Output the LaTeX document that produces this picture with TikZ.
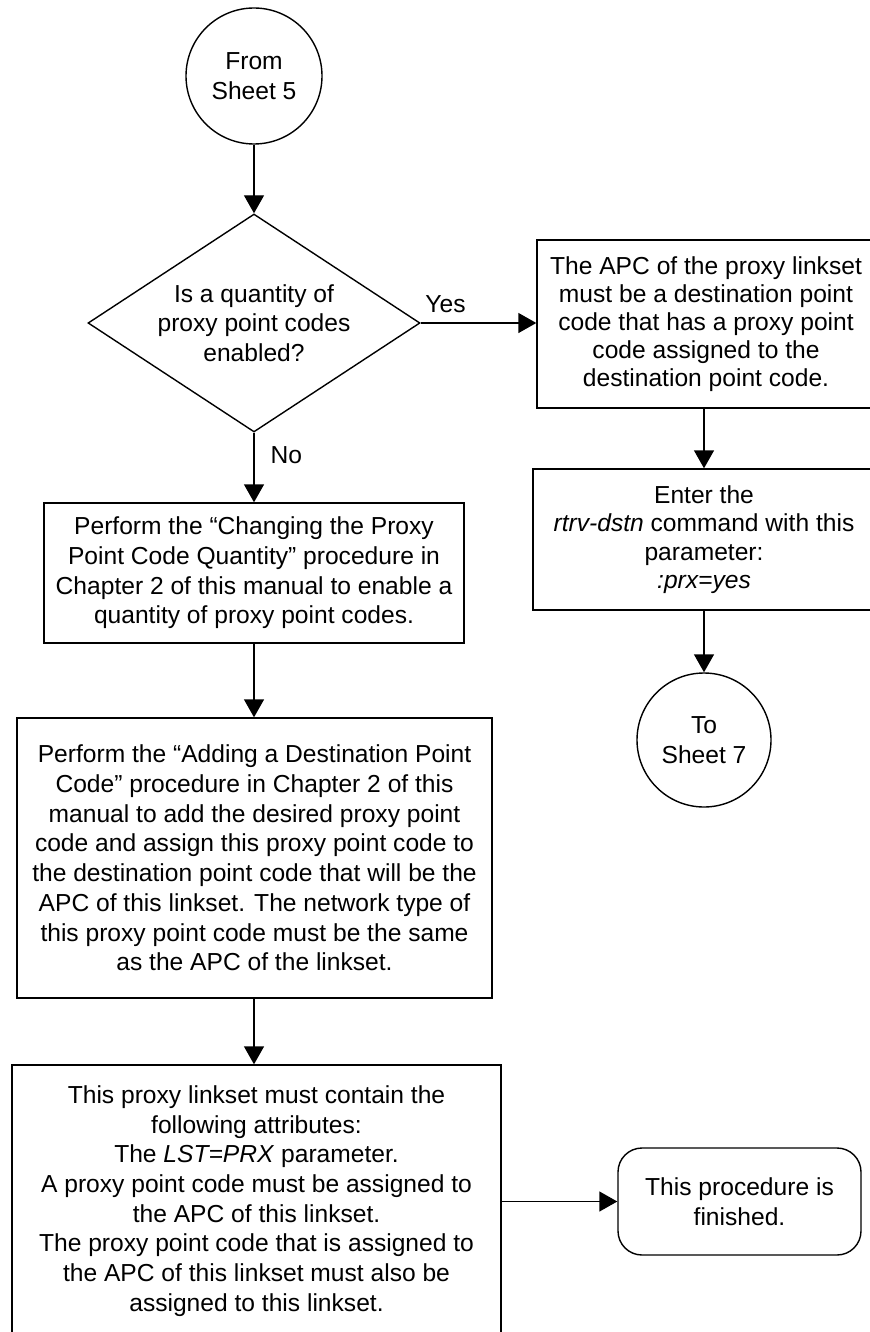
\documentclass[tikz,border=0pt]{standalone}
\usepackage{fontspec}
\setmainfont{Liberation Sans}
\usetikzlibrary{arrows.meta,shapes.geometric}
\begin{document}
\begin{tikzpicture}[x=0.5pt, y=-0.5pt, >={Triangle[length=9pt,width=10pt]}, line width=0.7pt,
	font=\fontsize{12.3}{14.85}\selectfont, line join=miter,
	box/.style={draw, rectangle, align=center, inner sep=0pt},
	sheet/.style={draw, circle, align=center, inner sep=0pt, minimum size=#1},
	decision/.style={draw, diamond, aspect=1.52, align=center, inner sep=0pt, minimum width=166pt, minimum height=109pt},
	finish/.style={draw, rectangle, rounded corners=12pt, align=center, inner sep=0pt}]
	\useasboundingbox (0,0) rectangle (869,1332);
	\node[sheet=68pt] (from) at (254,76) {From\\Sheet 5};
	\node[decision] (qty) at (254,323) {Is a quantity of\\proxy point codes\\enabled?};
	\node[box, minimum width=169pt, minimum height=84pt, font=\fontsize{12.3}{14}\selectfont] (apc) at (706,324)
		{The APC of the proxy linkset\\must be a destination point\\code that has a proxy point\\code assigned to the\\destination point code.};
	\node[box, minimum width=171pt, minimum height=70.5pt, font=\fontsize{12.3}{14.2}\selectfont] (rtrv) at (704,539.5)
		{Enter the\\\textit{rtrv-dstn} command with this\\parameter:\\\textit{:prx=yes}};
	\node[sheet=67pt] (to) at (704,740) {To\\Sheet 7};
	\node[box, minimum width=210pt, minimum height=70pt] (chg) at (254,573)
		{Perform the “Changing the Proxy\\Point Code Quantity” procedure in\\Chapter 2 of this manual to enable a\\quantity of proxy point codes.};
	\node[box, minimum width=237.5pt, minimum height=140pt] (add) at (254.5,858)
		{Perform the “Adding a Destination Point\\Code” procedure in Chapter 2 of this\\manual to add the desired proxy point\\code and assign this proxy point code to\\the destination point code that will be the\\APC of this linkset. The network type of\\this proxy point code must be the same\\as the APC of the linkset.};
	\node[box, minimum width=244.5pt, minimum height=136pt] (attr) at (256.5,1201)
		{This proxy linkset must contain the\\following attributes:\\The \textit{LST=PRX} parameter.\\A proxy point code must be assigned to\\the APC of this linkset.\\The proxy point code that is assigned to\\the APC of this linkset must also be\\assigned to this linkset.};
	\node[finish, minimum width=121.5pt, minimum height=53.5pt] (done) at (739.5,1201.5) {This procedure is\\finished.};
	\draw[->] (from) -- (qty);
	\draw[->] (qty.east) -- node[pos=0, anchor=south west, inner xsep=2pt, inner ysep=5pt]{Yes} (qty.east -| apc.west);
	\draw[->] (qty.south) -- node[pos=0, anchor=north west, inner xsep=8pt, inner ysep=6.5pt]{No} (chg.north);
	\draw[->] (rtrv.north |- apc.south) -- (rtrv.north);
	\draw[->] (rtrv.south) -- (to.north);
	\draw[->] (chg.south) -- (chg.south |- add.north);
	\draw[->] (chg.south |- add.south) -- (chg.south |- attr.north);
	\draw[->] (attr.east |- done.west) -- (done.west);
\end{tikzpicture}
\end{document}
